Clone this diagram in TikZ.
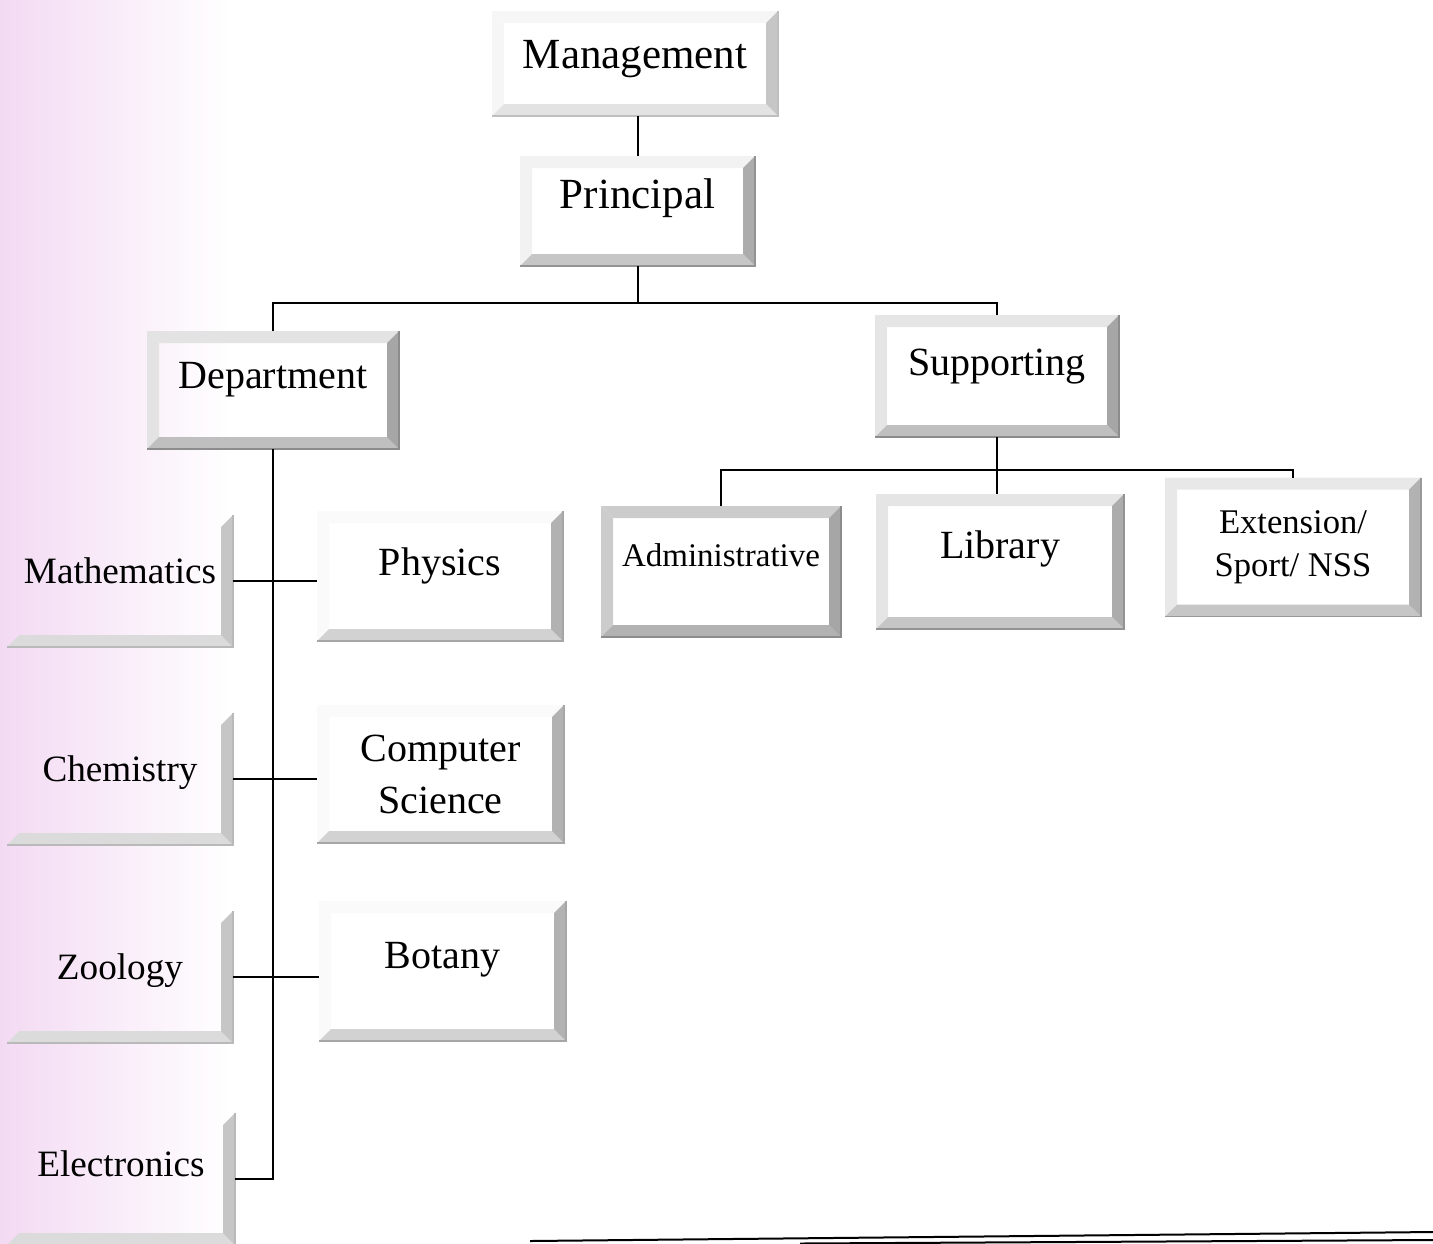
\documentclass[tikz,border=0pt]{standalone}
\usepackage{fontspec}
\setmainfont{Liberation Serif}
\usetikzlibrary{positioning}
\usetikzlibrary{calc}

\definecolor{pagetint}{RGB}{243,218,243}

% bevelled frame round a named node: #2 top/left, #3 bottom, #4 right, #5 outer edge
\newcommand{\bevel}[5]{%
	\fill[#2] (#1.north west) -- (#1.north east) -- ([xshift=-6pt,yshift=-6pt]#1.north east) -- ([xshift=6pt,yshift=-6pt]#1.north west) -- cycle;
	\fill[#2] (#1.north west) -- ([xshift=6pt,yshift=-6pt]#1.north west) -- ([xshift=6pt,yshift=6pt]#1.south west) -- (#1.south west) -- cycle;
	\fill[#3] (#1.south west) -- (#1.south east) -- ([xshift=-6pt,yshift=6pt]#1.south east) -- ([xshift=6pt,yshift=6pt]#1.south west) -- cycle;
	\fill[#4] (#1.north east) -- (#1.south east) -- ([xshift=-6pt,yshift=6pt]#1.south east) -- ([xshift=-6pt,yshift=-6pt]#1.north east) -- cycle;
	\draw[#5, line width=0.6pt] (#1.north east) -- (#1.south east) -- (#1.south west);
}

\tikzset{
	orgbox/.style 2 args={rectangle, inner sep=0pt, align=center, minimum width=#1, minimum height=#2},
	lift/.style={text height=0.7em, text depth=#1},
	topfont/.style={font=\fontsize{21.5}{26}\selectfont},
	midfont/.style={font=\fontsize{20}{26}\selectfont},
	colfont/.style={font=\fontsize{18.6}{22}\selectfont},
	smallfont/.style={font=\fontsize{16.5}{21.5}\selectfont},
	extfont/.style={font=\fontsize{17.3}{21.5}\selectfont}
}

\begin{document}
\begin{tikzpicture}[x=0.5pt, y=-0.5pt, line width=1pt]
	\useasboundingbox (0,0) rectangle (1433,1243);
	\fill[left color=pagetint, right color=white] (0,0) rectangle (230,1243);

	% top of the chart
	\node[orgbox={142pt}{51.5pt}, topfont, lift=2.5pt] (mgmt) at (635,63.5) {Management};
	\node[orgbox={116.5pt}{54pt}, topfont, lift=10pt] (prin) at (637.5,211) {Principal};
	\node[orgbox={125pt}{58pt}, midfont, lift=9pt] (dept) at (273,390) {Department};
	\node[orgbox={121pt}{60pt}, midfont, lift=8pt] (supp) at (997,376) {Supporting};

	% departments
	\node[orgbox={112pt}{65pt}, colfont, lift=5pt] (math) at (120,581) {Mathematics};
	\node[orgbox={112pt}{65pt}, colfont, lift=5pt] (chem) at (120,779) {Chemistry};
	\node[orgbox={112pt}{65pt}, colfont, lift=5pt] (zool) at (120,977) {Zoology};
	\node[orgbox={113pt}{65pt}, colfont, lift=10pt] (elec) at (121,1179) {Electronics};
	\node[orgbox={122pt}{64pt}, midfont, lift=8pt] (phys) at (440,576) {Physics};
	\node[orgbox={122.5pt}{68pt}, midfont] (cs) at (440.5,774) {Computer\\Science};
	\node[orgbox={122.5pt}{69pt}, midfont, lift=10pt] (bot) at (442.5,971) {Botany};

	% supporting units
	\node[orgbox={119pt}{64.5pt}, smallfont, lift=12pt] (admin) at (721,571.5) {Administrative};
	\node[orgbox={123pt}{66.5pt}, midfont, lift=10pt] (lib) at (1000,561.5) {Library};
	\node[orgbox={127pt}{68.5pt}, extfont] (ext) at (1293,547) {Extension/\\Sport/ NSS};

	\bevel{mgmt}{gray!7}{gray!22}{gray!45}{gray!50}
	\bevel{prin}{gray!10}{gray!45}{gray!65}{gray!85}
	\bevel{dept}{gray!22}{gray!50}{gray!70}{gray!90}
	\bevel{supp}{gray!20}{gray!50}{gray!70}{gray!90}
	\foreach \n in {math, chem, zool, elec}
		\bevel{\n}{opacity=0}{gray!28}{gray!45}{gray!55};
	\foreach \n in {phys, cs, bot}
		\bevel{\n}{gray!4}{gray!35}{gray!60}{gray!70};
	\bevel{admin}{gray!40}{gray!60}{gray!70}{gray!90}
	\bevel{lib}{gray!20}{gray!45}{gray!65}{gray!85}
	\bevel{ext}{gray!18}{gray!45}{gray!60}{gray!80}

	% connectors
	\coordinate (bus1) at (637.5,303);
	\coordinate (bus2) at (997,470);
	\draw (prin.north |- mgmt.south) -- (prin.north);
	\draw (prin.south) -- (bus1);
	\draw (dept.north) |- (bus1) -| (supp.north);
	\draw (dept.south) |- (elec.east);
	\draw (math.east) -- (math.east -| phys.west);
	\draw (chem.east) -- (chem.east -| cs.west);
	\draw (zool.east) -- (zool.east -| bot.west);
	\draw (supp.south) -- (bus2);
	\draw (admin.north) |- (bus2) -| (ext.north);
	\draw (bus2) -- (bus2 |- lib.north);

	% ruled lines at the foot of the page
	\draw (530,1241) -- (1433,1232);
	\draw (800,1243.5) -- (1433,1240);
\end{tikzpicture}
\end{document}
